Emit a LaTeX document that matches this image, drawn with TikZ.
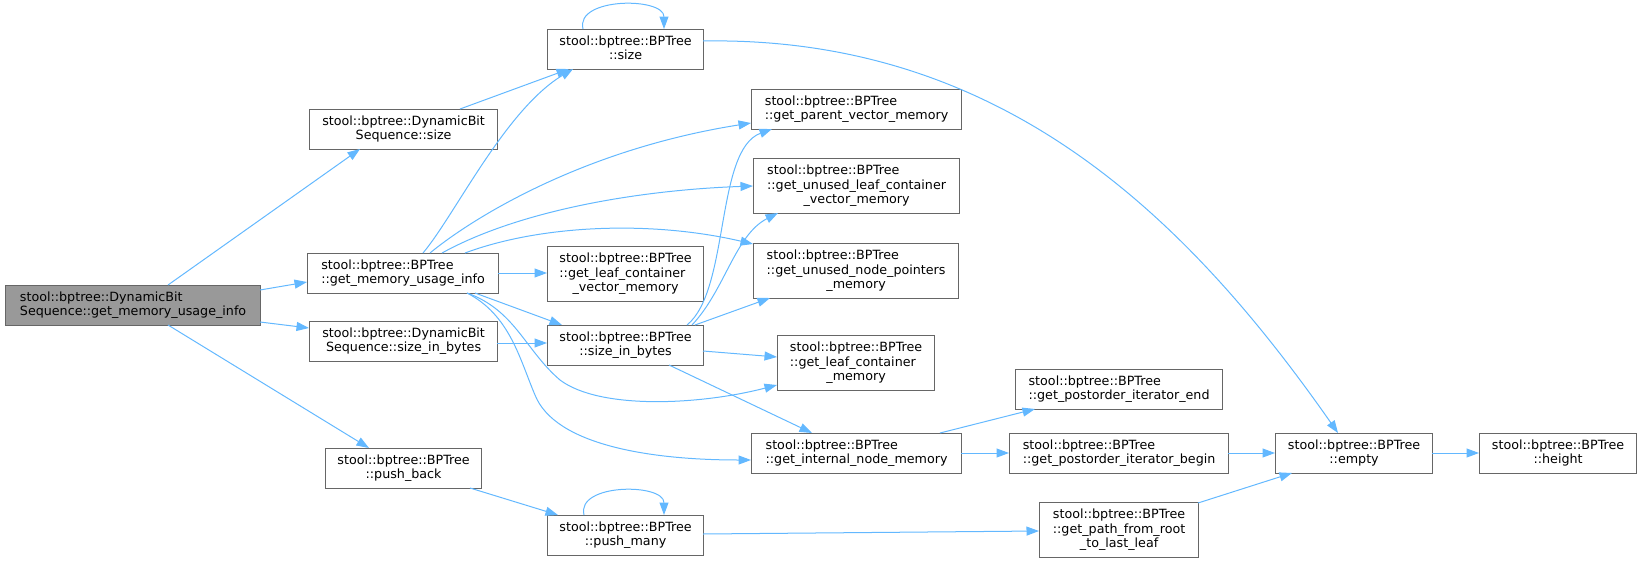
\documentclass[tikz,border=0pt]{standalone}
\usepackage{fontspec}
\setmainfont{DejaVu Sans}
\usetikzlibrary{arrows.meta,calc}
\definecolor{edgeblue}{HTML}{63B8FF}
\definecolor{boxgray}{HTML}{666666}
\definecolor{rootfill}{HTML}{999999}
\newcommand\twol[2]{\begin{tabular}{@{}l@{}}#1\\\multicolumn{1}{@{}c@{}}{#2}\end{tabular}}
\newcommand\threel[3]{\begin{tabular}{@{}l@{}}#1\\#2\\\multicolumn{1}{@{}c@{}}{#3}\end{tabular}}
\begin{document}
\begin{tikzpicture}[x=1pt,y=-1pt,
  box/.style={draw=boxgray, line width=1.2pt, fill=white, inner sep=0pt, anchor=north west,
    font=\fontsize{12.7}{14.6}\selectfont},
  b40/.style={box, minimum height=40pt},
  b55/.style={box, minimum height=55pt},
  edge/.style={draw=edgeblue, line width=1pt, -{Triangle[length=12.5pt,width=9pt]}}]
\useasboundingbox (0,0) rectangle (1641,562);
% nodes
\node[b40, minimum width=255pt, fill=rootfill] (root) at (5,285) {\twol{stool::bptree::DynamicBit}{Sequence::get\_memory\_usage\_info}};
\node[b40, minimum width=188pt] (dbssize) at (309,109) {\twol{stool::bptree::DynamicBit}{Sequence::size}};
\node[b40, minimum width=191pt] (gmui) at (307,253) {\twol{stool::bptree::BPTree}{::get\_memory\_usage\_info}};
\node[b40, minimum width=188pt] (dbssib) at (309,321) {\twol{stool::bptree::DynamicBit}{Sequence::size\_in\_bytes}};
\node[b40, minimum width=156pt] (pushback) at (325,448) {\twol{stool::bptree::BPTree}{::push\_back}};
\node[b40, minimum width=156pt] (size) at (547,29) {\twol{stool::bptree::BPTree}{::size}};
\node[b55, minimum width=156pt] (glcvm) at (547,246) {\threel{stool::bptree::BPTree}{::get\_leaf\_container}{\_vector\_memory}};
\node[b40, minimum width=156pt] (sib) at (547,325) {\twol{stool::bptree::BPTree}{::size\_in\_bytes}};
\node[b40, minimum width=156pt] (pushmany) at (547,515) {\twol{stool::bptree::BPTree}{::push\_many}};
\node[b40, minimum width=210pt] (gpvm) at (751,89) {\twol{stool::bptree::BPTree}{::get\_parent\_vector\_memory}};
\node[b55, minimum width=206pt] (gulcvm) at (753,158) {\threel{stool::bptree::BPTree}{::get\_unused\_leaf\_container}{\_vector\_memory}};
\node[b55, minimum width=205pt] (gunpm) at (753,243) {\threel{stool::bptree::BPTree}{::get\_unused\_node\_pointers}{\_memory}};
\node[b55, minimum width=157pt] (glcm) at (777,335) {\threel{stool::bptree::BPTree}{::get\_leaf\_container}{\_memory}};
\node[b40, minimum width=210pt] (ginm) at (751,433) {\twol{stool::bptree::BPTree}{::get\_internal\_node\_memory}};
\node[b40, minimum width=207pt] (gpie) at (1015,369) {\twol{stool::bptree::BPTree}{::get\_postorder\_iterator\_end}};
\node[b40, minimum width=219pt] (gpib) at (1009,433) {\twol{stool::bptree::BPTree}{::get\_postorder\_iterator\_begin}};
\node[b55, minimum width=159pt] (gpfr) at (1039,502) {\threel{stool::bptree::BPTree}{::get\_path\_from\_root}{\_to\_last\_leaf}};
\node[b40, minimum width=157pt] (empty) at (1275,433) {\twol{stool::bptree::BPTree}{::empty}};
\node[b40, minimum width=157pt] (height) at (1479,433) {\twol{stool::bptree::BPTree}{::height}};
% edges
\draw[edge] ($(root.north west)+(163,0)$) -- ($(dbssize.north west)+(51,40)$);
\draw[edge] ($(root.north west)+(255,5)$) -- ($(gmui.north west)+(0,29)$);
\draw[edge] ($(root.north west)+(255,37)$) -- ($(dbssib.north west)+(0,7)$);
\draw[edge] ($(root.north west)+(163,40)$) -- ($(pushback.north west)+(44,0)$);
\draw[edge] ($(dbssize.north west)+(151,0)$) -- ($(size.north west)+(22,40)$);
\draw[edge] ($(gmui.north west)+(116,0)$) .. controls (455,215) and (505,110) .. ($(size.north west)+(26,40)$);
\draw[edge] ($(gmui.north west)+(123,0)$) .. controls (470,220) and (580,150) .. ($(gpvm.north west)+(0,34)$);
\draw[edge] ($(gmui.north west)+(135,0)$) .. controls (520,210) and (640,190) .. ($(gulcvm.north west)+(0,28)$);
\draw[edge] ($(gmui.north west)+(158,0)$) .. controls (540,225) and (650,220) .. ($(gunpm.north west)+(0,1)$);
\draw[edge] ($(gmui.north west)+(191,20)$) -- ($(glcvm.north west)+(0,27)$);
\draw[edge] ($(gmui.north west)+(168,40)$) -- ($(sib.north west)+(15,0)$);
\draw[edge] ($(gmui.north west)+(160,40)$) .. controls (515,310) and (525,350) .. (560,380) .. controls (600,410) and (700,405) .. ($(glcm.north west)+(0,50)$);
\draw[edge] ($(gmui.north west)+(160,40)$) .. controls (510,315) and (520,360) .. (535,395) .. controls (555,445) and (650,460) .. ($(ginm.north west)+(0,27)$);
\draw[edge] ($(dbssib.north west)+(188,22)$) -- ($(sib.north west)+(0,18)$);
\draw[edge] ($(pushback.north west)+(145,40)$) -- ($(pushmany.north west)+(11,0)$);
\draw[edge] ($(pushmany.north west)+(37,0)$) .. controls (576,483) and (664,483) .. ($(pushmany.north west)+(117,0)$);
\draw[edge] ($(size.north west)+(36,0)$) .. controls (575,-3) and (664,-3) .. ($(size.north west)+(117,0)$);
\draw[edge] ($(size.north west)+(156,12)$) .. controls (1000,36) and (1185,214) .. ($(empty.north west)+(63,0)$);
\draw[edge] ($(sib.north west)+(140,0)$) .. controls (730,290) and (715,150) .. ($(gpvm.north west)+(21,40)$);
\draw[edge] ($(sib.north west)+(145,0)$) .. controls (725,290) and (735,235) .. ($(gulcvm.north west)+(25,55)$);
\draw[edge] ($(sib.north west)+(148,0)$) -- ($(gunpm.north west)+(17,55)$);
\draw[edge] ($(sib.north west)+(156,26)$) -- ($(glcm.north west)+(0,22)$);
\draw[edge] ($(sib.north west)+(122,40)$) -- ($(ginm.north west)+(61,0)$);
\draw[edge] ($(ginm.north west)+(189,0)$) -- ($(gpie.north west)+(20,40)$);
\draw[edge] ($(ginm.north west)+(210,20)$) -- ($(gpib.north west)+(0,20)$);
\draw[edge] ($(gpib.north west)+(219,20)$) -- ($(empty.north west)+(0,20)$);
\draw[edge] ($(pushmany.north west)+(156,19)$) -- ($(gpfr.north west)+(0,29)$);
\draw[edge] ($(gpfr.north west)+(159,1)$) -- ($(empty.north west)+(17,40)$);
\draw[edge] ($(empty.north west)+(157,20)$) -- ($(height.north west)+(0,20)$);
\end{tikzpicture}
\end{document}
